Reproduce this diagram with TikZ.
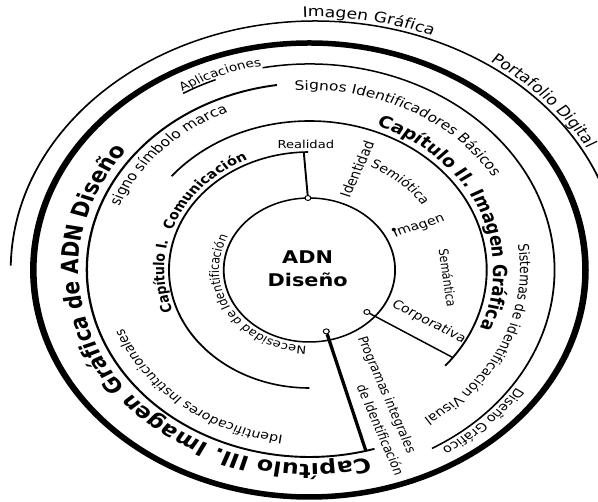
\documentclass[tikz,border=0pt]{standalone}
\usepackage{fontspec}
\setmainfont{DejaVu Sans}
\usetikzlibrary{decorations.text}
\newcommand\fsz[1]{\fontsize{#1}{#1}\selectfont}
\tikzset{
  ring/.style={line width=1.5pt},
  heavy/.style={line width=5.5pt},
  link/.style={line width=1.6pt},
  dotc/.style={circle,draw,fill=white,inner sep=0pt,minimum size=5pt,line width=0.9pt},
  arctxt/.style 2 args={decorate,decoration={text along path,text align=center,text={|#1|#2}}},
  lbl/.style={inner sep=0pt,anchor=center},
}
\begin{document}
\begin{tikzpicture}[x=1pt,y=1pt]
\fill[white] (0,0) rectangle (598,502);
\useasboundingbox (0,0) rectangle (598,502);
\pgflowlevel{\pgftransformxscale{1.19}}
\coordinate (C) at (260,232);
\coordinate (C7) at (265,232);

% rings
\draw[ring] (C) circle[radius=72];
\draw[ring,line width=1.6pt] (C) ++(90.5:118) arc[start angle=90.5,end angle=270,radius=118];
\draw[ring,line width=1.6pt] (C) ++(141:149) arc[start angle=141,end angle=-40,radius=149];
\draw[ring,line width=1.9pt] (C) ++(98.4:187) arc[start angle=98.4,end angle=287,radius=187];
\draw[ring] (C) ++(121:206) arc[start angle=121,end angle=112.5,radius=206];
\draw[ring] (C) ++(101:206) arc[start angle=101,end angle=-60,radius=206];
\draw[heavy] (C) ellipse[x radius=232,y radius=227];
\draw[ring] (C7) ++(179:256 and 249) arc[start angle=179,end angle=21,x radius=256,y radius=249];

% connectors
\path (C) ++(91:72) coordinate (pR);
\path (C) ++(92.3:118) coordinate (eR);
\node[dotc] (dR) at (pR) {};
\draw[link] (dR) -- (eR);

\path (C) ++(-41:64) coordinate (pC);
\path (C) ++(-36:149) coordinate (eC);
\node[dotc] (dC) at (pC) {};
\draw[link,line width=1.4pt] (dC) -- (eC);

\path (C) ++(-77:63) coordinate (pP);
\path (C) ++(-75.3:187) coordinate (eP);
\node[dotc] (dP) at (pP) {};
\draw[link,line width=2.8pt] (dP) -- (eP);

% curved texts
\path[arctxt={\fsz{14.5}}{Imagen Gráfica}] (C7) ++(110:260 and 253) arc[start angle=110,end angle=50,x radius=260,y radius=253];
\path[arctxt={\fsz{14.5}}{Portafolio Digital}] (C7) ++(70:260 and 253) arc[start angle=70,end angle=14,x radius=260,y radius=253];
\path[arctxt={\fsz{11.5}}{Aplicaciones}] (C) ++(130:208) arc[start angle=130,end angle=92,radius=208];
\path[arctxt={\fsz{13}}{signo símbolo marca}] (C) ++(170:172) arc[start angle=170,end angle=101.6,radius=172];
\path[arctxt={\fsz{13}}{Signos Identificadores Básicos}] (C) ++(100:180) arc[start angle=100,end angle=25,radius=180];
\path[arctxt={\bfseries\fsz{16.3}}{Capítulo II. Imagen Gráfica}] (C) ++(75:155) arc[start angle=75,end angle=-28.4,radius=155];
\path[arctxt={\bfseries\fsz{12.5}}{Capítulo I.}] (C) ++(205:122) arc[start angle=205,end angle=161,radius=122];
\path[arctxt={\bfseries\fsz{12.5}}{Comunicación}] (C) ++(165:122) arc[start angle=165,end angle=111,radius=122];
\path[arctxt={\fsz{11}}{Necesidad de Identificación}] (C) ++(276:76) arc[start angle=276,end angle=146,radius=76];
\path[arctxt={\fsz{12}}{Semiótica}] (C) ++(80:115) arc[start angle=80,end angle=18,radius=115];
\path[arctxt={\fsz{12.3}}{Sistemas de identificación Visual}] (C) ++(20:177) arc[start angle=20,end angle=-68.8,radius=177];
\path[arctxt={\fsz{12}}{Diseño Gráfico}] (C) ++(-25:210) arc[start angle=-25,end angle=-67,radius=210];
\path[arctxt={\fsz{12}}{Identificadores Institucionales}] (C) ++(275:167) arc[start angle=275,end angle=188,radius=167];
\path[arctxt={\bfseries\fsz{20}}{Capítulo III. Imagen Gráfica de ADN Diseño}] (C) ++(290:194) arc[start angle=290,end angle=137,radius=194];

% straight texts
\node[lbl,align=center,font=\bfseries\fontsize{17.5}{23}\selectfont] (adn) at ([shift={(-1.5,1)}]C) {ADN\\Diseño};
\node[lbl,anchor=base] (tReal) at ([shift={(-3,121)}]C) {\fsz{11}Realidad};
\node[lbl,rotate=69] (tId) at ([shift={(40,101)}]C) {\fsz{12.5}Identidad};
\node[lbl,rotate=21] (tIm) at ([shift={(92,44)}]C) {\fsz{12}\rlap{\kern-1.8pt\raisebox{3pt}{\textbullet}}Imagen};
\node[lbl,rotate=-83] (tSem) at ([shift={(116.4,-8)}]C) {\fsz{11}Semántica};
\node[lbl,rotate=-31.5] (tCor) at ([shift={(100.5,-52)}]C) {\fsz{12}Corporativa};
\node[lbl,rotate=-70] (tPr1) at ([shift={(64.4,-125)}]C) {\fsz{11.5}Programas integrales};
\node[lbl,rotate=-70] (tPr2) at ([shift={(60,-160)}]C) {\fsz{11.5}de Identificación};
\end{tikzpicture}
\end{document}
